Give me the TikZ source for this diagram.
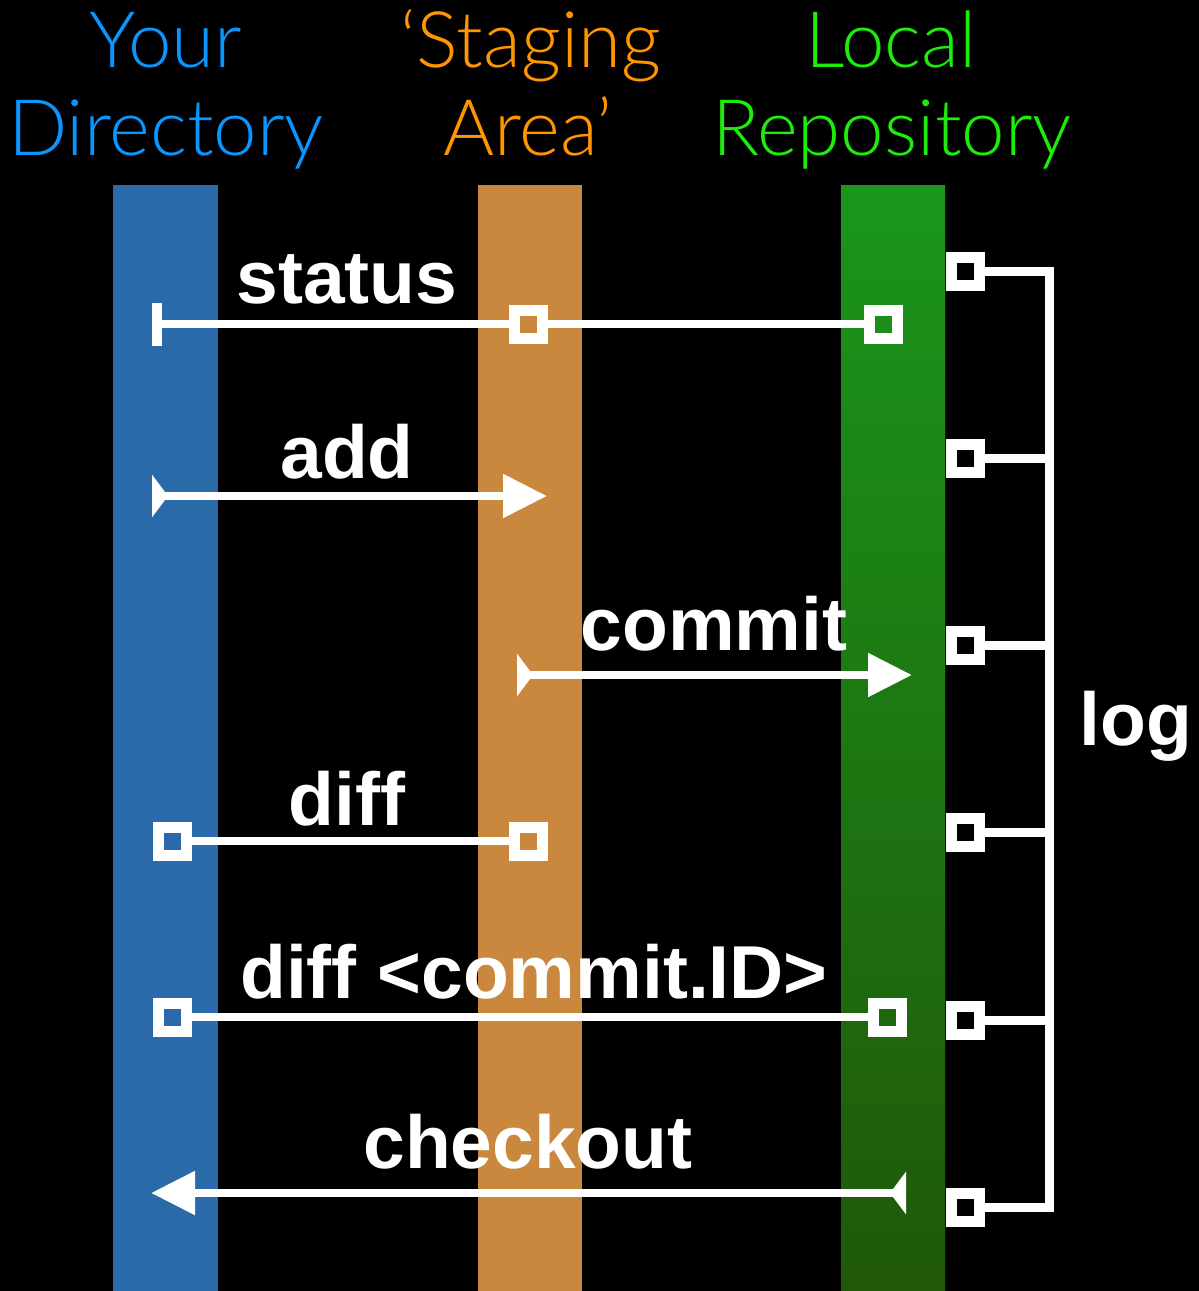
\documentclass[tikz,border=0pt]{standalone}
\usepackage{fontspec}
\setmainfont{Liberation Sans}
\newfontfamily\lightfont{Lato}[UprightFont=* Light]
\usetikzlibrary{arrows.meta}
\definecolor{tblue}{RGB}{10,150,255}
\definecolor{torange}{RGB}{255,149,0}
\definecolor{tgreen}{RGB}{30,236,10}
\definecolor{barblue}{RGB}{43,106,168}
\definecolor{barorange}{RGB}{201,136,62}
\definecolor{bargreentop}{RGB}{26,150,26}
\definecolor{bargreenbot}{RGB}{32,88,10}
\tikzset{
  title/.style={anchor=base, inner sep=0pt, font=\fontsize{78}{89}\selectfont\lightfont},
  lbl/.style={anchor=base, inner sep=0pt, text=white, font=\fontsize{75}{80}\selectfont\bfseries},
  conn/.style={draw=white, line width=8.5pt},
  sqbox/.style={draw=white, line width=11pt, minimum size=28pt, inner sep=0pt, rectangle},
  tickbox/.style={fill=white, minimum width=10pt, minimum height=43pt, inner sep=0pt, rectangle},
  tailtip/.tip={Triangle[reversed, width=42pt, length=16pt]},
  headtip/.tip={Triangle[width=42pt, length=44pt]},
}
\begin{document}
\begin{tikzpicture}[x=1pt, y=-1pt]
\fill[black] (0,0) rectangle (1199,1291);
\useasboundingbox (0,0) rectangle (1199,1291);
% bars
\fill[barblue] (113,185) rectangle (218,1291);
\fill[barorange] (478,185) rectangle (582,1291);
\shade[top color=bargreentop, bottom color=bargreenbot] (841,185) rectangle (945,1291);
% titles
\node[title, text=tblue] (t1a) at (166,67) {Your};
\node[title, text=tblue] (t1b) at (166,155) {Directory};
\node[title, text=torange] (t2a) at (531,67) {‘Staging};
\node[title, text=torange] (t2b) at (528,155) {Area’};
\node[title, text=tgreen] (t3a) at (891,67) {Local};
\node[title, text=tgreen] (t3b) at (892,155) {Repository};
% status
\node[tickbox] (st0) at (157,324) {};
\node[sqbox] (st1) at (528,324) {};
\node[sqbox] (st2) at (883,324) {};
\draw[conn] (st0) -- (st1);
\draw[conn] (st1) -- (st2);
\node[lbl] (lstatus) at (347,303) {status};
% add
\coordinate (a1) at (152,496);
\coordinate (a2) at (547,496);
\draw[conn, tailtip-headtip] (a1) -- (a2);
\node[lbl] (ladd) at (347,478) {add};
% commit
\coordinate (c1) at (517,675);
\coordinate (c2) at (912,675);
\draw[conn, tailtip-headtip] (c1) -- (c2);
\node[lbl] (lcommit) at (714,650) {commit};
% diff
\node[sqbox] (d1) at (172,841) {};
\node[sqbox] (d2) at (528,841) {};
\draw[conn] (d1) -- (d2);
\node[lbl] (ldiff) at (347,825) {diff};
% diff commit
\node[sqbox] (e1) at (172,1017) {};
\node[sqbox] (e2) at (887,1017) {};
\draw[conn] (e1) -- (e2);
\node[lbl] (ldiffc) at (534,998) {diff <commit.ID>};
% checkout
\coordinate (k1) at (906,1193);
\coordinate (k2) at (151,1193);
\draw[conn, tailtip-headtip] (k1) -- (k2);
\node[lbl] (lcheckout) at (528,1168) {checkout};
% log
\node[sqbox] (g1) at (965,271) {};
\node[sqbox] (g2) at (965,458) {};
\node[sqbox] (g3) at (965,645) {};
\node[sqbox] (g4) at (965,832) {};
\node[sqbox] (g5) at (965,1020) {};
\node[sqbox] (g6) at (965,1207) {};
\coordinate (bt) at (1049,271);
\coordinate (bb) at (1049,1207);
\draw[draw=white, line width=9pt, line join=miter] (g1) -- (bt) -- (bb) -- (g6);
\foreach \i in {2,3,4,5} { \draw[draw=white, line width=9pt] (g\i) -- (g\i -| bt); }
\node[lbl] (llog) at (1136,745) {log};
\end{tikzpicture}
\end{document}
